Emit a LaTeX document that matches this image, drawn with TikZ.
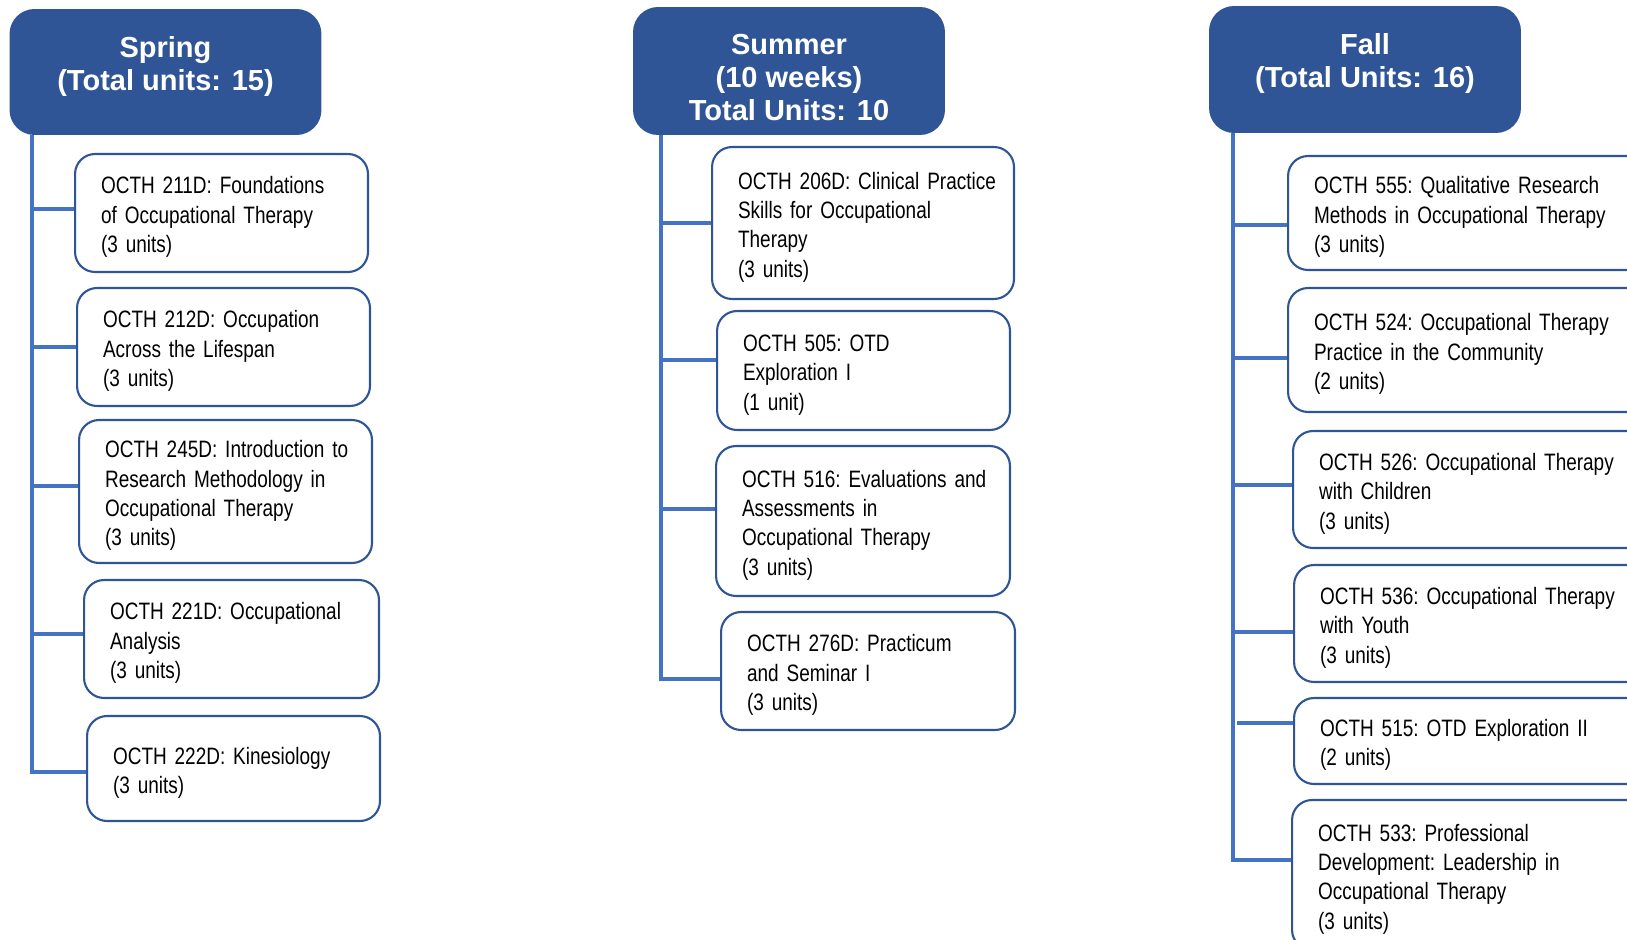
\documentclass[tikz,border=0pt]{standalone}
\usepackage{fontspec}
\setmainfont{Liberation Sans}
\newfontfamily\narrowfont[FakeStretch=0.80, WordSpace=0.85]{Liberation Sans}
\usetikzlibrary{positioning}

\definecolor{headblue}{HTML}{2F5597}
\definecolor{boxblue}{HTML}{2F5597}
\definecolor{lineblue}{HTML}{4472C4}

\newcommand\coursefont{\narrowfont\fontsize{13.5}{16.7}\selectfont\frenchspacing\hyphenpenalty=10000\relax}

\tikzset{
  term/.style={fill=headblue, rounded corners=0.5cm, text=white, align=center,
    minimum width=6.24cm, font=\fontsize{16.5}{18.8}\selectfont\bfseries},
  course/.style={draw=boxblue, line width=1.2pt, rounded corners=0.4cm, fill=white,
    anchor=west, align=left, inner xsep=0.52cm, text height=14.5pt, font=\coursefont,
    execute at begin node={\rightskip=0pt plus 1fil minus 2cm\relax}},
  branch/.style={draw=lineblue, line width=2.4pt}
}

\begin{document}
\begin{tikzpicture}[x=0.02cm, y=-0.02cm]
\useasboundingbox (0,0) rectangle (1627,940);
\clip (0,0) rectangle (1627,940);

% Spring
\node[term, minimum height=2.52cm, text depth=10pt] (spring) at (165.5,72) {Spring\\(Total units: 15)};
\coordinate (springtop) at (32,135);
\node[course, text width=4.82cm, minimum height=2.36cm] (sp1) at (74,213) {OCTH 211D: Foundations\\of Occupational Therapy\\(3 units)};
\node[course, text width=4.82cm, minimum height=2.36cm] (sp2) at (76,347) {OCTH 212D: Occupation\\Across the Lifespan\\(3 units)};
\node[course, text width=4.82cm, minimum height=2.86cm] (sp3) at (78,491.5) {OCTH 245D: Introduction to\\Research Methodology in\\Occupational Therapy\\(3 units)};
\node[course, text width=4.86cm, minimum height=2.36cm] (sp4) at (83,639) {OCTH 221D: Occupational\\Analysis\\(3 units)};
\node[course, text width=4.82cm, minimum height=2.10cm] (sp5) at (86,768.5) {OCTH 222D: Kinesiology\\(3 units)\\[26pt]};

\draw[branch] ([yshift=0.08cm]sp1.west) coordinate (c) -- (c -| springtop);
\draw[branch] (sp2.west) -- (sp2.west -| springtop);
\draw[branch] ([yshift=0.11cm]sp3.west) coordinate (c) -- (c -| springtop);
\draw[branch] ([yshift=0.10cm]sp4.west) coordinate (c) -- (c -| springtop);
\draw[branch] (springtop) |- ([yshift=-0.07cm]sp5.west);

% Summer
\node[term, minimum height=2.56cm, text height=56pt, text depth=0pt] (summer) at (789,71) {Summer\\(10 weeks)\\Total Units: 10};
\coordinate (summertop) at (661,135);
\node[course, text width=5.00cm, minimum height=3.04cm] (su1) at (711,223) {OCTH 206D: Clinical Practice\\Skills for Occupational\\Therapy\\(3 units)};
\node[course, text width=4.82cm, minimum height=2.38cm] (su2) at (716,370.5) {OCTH 505: OTD\\Exploration I\\(1 unit)};
\node[course, text width=4.84cm, minimum height=3.00cm] (su3) at (715,521) {OCTH 516: Evaluations and\\Assessments in\\Occupational Therapy\\(3 units)};
\node[course, text width=4.84cm, minimum height=2.36cm] (su4) at (720,671) {OCTH 276D: Practicum\\and Seminar I\\(3 units)};

\draw[branch] (su1.west) -- (su1.west -| summertop);
\draw[branch] ([yshift=0.21cm]su2.west) coordinate (c) -- (c -| summertop);
\draw[branch] ([yshift=0.24cm]su3.west) coordinate (c) -- (c -| summertop);
\draw[branch] (summertop) |- ([yshift=-0.16cm]su4.west);

% Fall
\node[term, minimum height=2.54cm, text depth=10pt] (fall) at (1365,69.5) {Fall\\(Total Units: 16)};
\coordinate (falltop) at (1233,133);
\node[course, text width=6.2cm, minimum height=2.28cm] (fa1) at (1287,213) {OCTH 555: Qualitative Research\\Methods in Occupational Therapy\\(3 units)};
\node[course, text width=6.2cm, minimum height=2.48cm] (fa2) at (1287,350) {OCTH 524: Occupational Therapy\\Practice in the Community\\(2 units)};
\node[course, text width=6.2cm, minimum height=2.34cm] (fa3) at (1292,489.5) {OCTH 526: Occupational Therapy\\with Children\\(3 units)};
\node[course, text width=6.2cm, minimum height=2.34cm] (fa4) at (1293,623.5) {OCTH 536: Occupational Therapy\\with Youth\\(3 units)};
\node[course, text width=6.2cm, minimum height=1.72cm] (fa5) at (1293,741) {OCTH 515: OTD Exploration II\\(2 units)};
\node[course, text width=6.2cm, minimum height=3.00cm] (fa6) at (1291,875) {OCTH 533: Professional\\Development: Leadership in\\Occupational Therapy\\(3 units)};

\draw[branch] ([yshift=-0.24cm]fa1.west) coordinate (c) -- (c -| falltop);
\draw[branch] ([yshift=-0.16cm]fa2.west) coordinate (c) -- (c -| falltop);
\draw[branch] ([yshift=0.09cm]fa3.west) coordinate (c) -- (c -| falltop);
\draw[branch] ([yshift=-0.17cm]fa4.west) coordinate (c) -- (c -| falltop);
\draw[branch] ([yshift=0.36cm]fa5.west) coordinate (c) -- ([xshift=0.08cm]c -| falltop);
\draw[branch] (falltop) |- ([yshift=0.30cm]fa6.west);
\end{tikzpicture}
\end{document}
